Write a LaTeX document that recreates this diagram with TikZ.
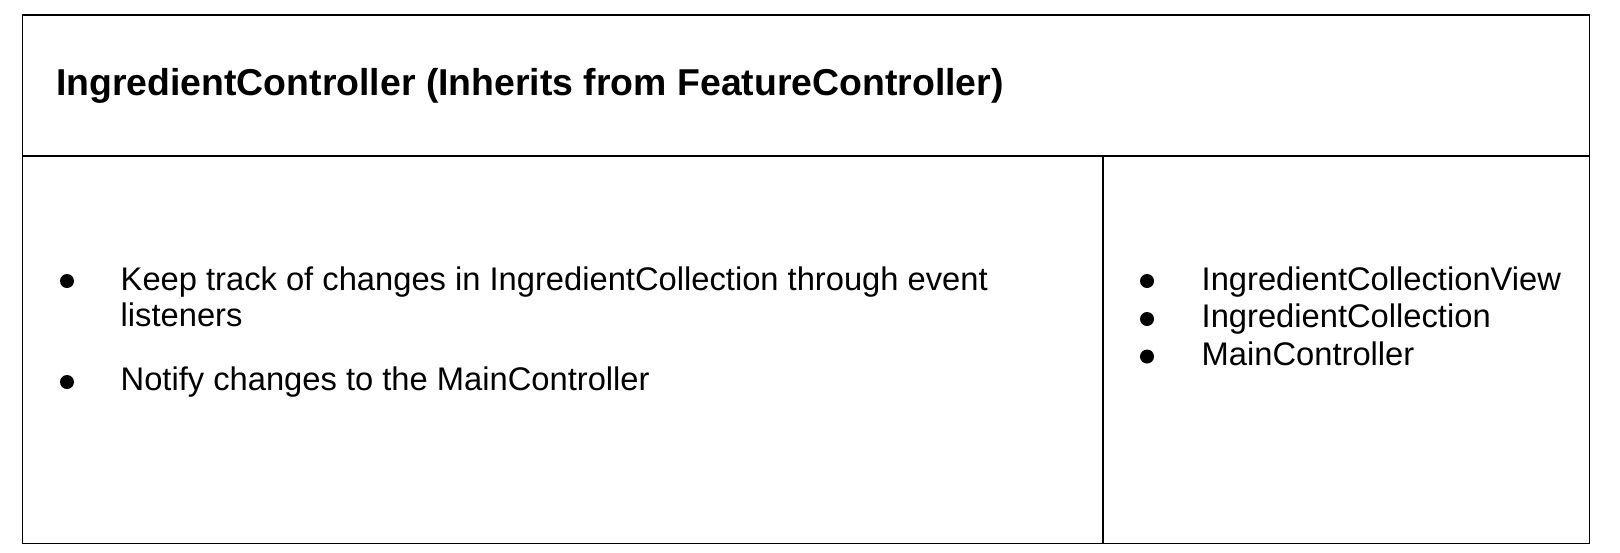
\documentclass[tikz,border=0pt]{standalone}
\usepackage{fontspec}
\setmainfont{Liberation Sans}
\begin{document}
\begin{tikzpicture}[x=1pt,y=-1pt,
  frame/.style={line width=1.8pt,draw=black},
  title/.style={anchor=base west,inner sep=0pt,font=\fontsize{37.4}{44}\selectfont\bfseries},
  body/.style={anchor=base west,inner sep=0pt,font=\fontsize{32.7}{39}\selectfont},
  dot/.style={circle,fill=black,inner sep=0pt,minimum size=14pt}]
\useasboundingbox (0,0) rectangle (1620,552);
\fill[white] (0,0) rectangle (1620,552);
% table frame
\coordinate (tl) at (22.5,15);
\coordinate (br) at (1589.5,543.5);
\coordinate (hl) at (22.5,156);
\coordinate (hr) at (1589.5,156);
\coordinate (dt) at (1103,156);
\coordinate (db) at (1103,543.5);
\draw[frame] (tl) rectangle (br);
\draw[frame] (hl) -- (hr);
\draw[frame] (dt) -- (db);
% title
\node[title] (t) at (56,95) {IngredientController (Inherits from FeatureController)};
% left column
\node[dot] (b1) at (67,281) {};
\node[body] (l1) at (120.5,290) {Keep track of changes in IngredientCollection through event};
\node[body] (l2) at (120.5,326.5) {listeners};
\node[dot] (b2) at (67,382) {};
\node[body] (l3) at (120.5,390) {Notify changes to the MainController};
% right column
\node[dot] (r1b) at (1147,281) {};
\node[body] (r1) at (1201.5,290) {IngredientCollectionView};
\node[dot] (r2b) at (1147,319) {};
\node[body] (r2) at (1201.5,327.5) {IngredientCollection};
\node[dot] (r3b) at (1147,356.5) {};
\node[body] (r3) at (1201.5,365) {MainController};
\end{tikzpicture}
\end{document}
